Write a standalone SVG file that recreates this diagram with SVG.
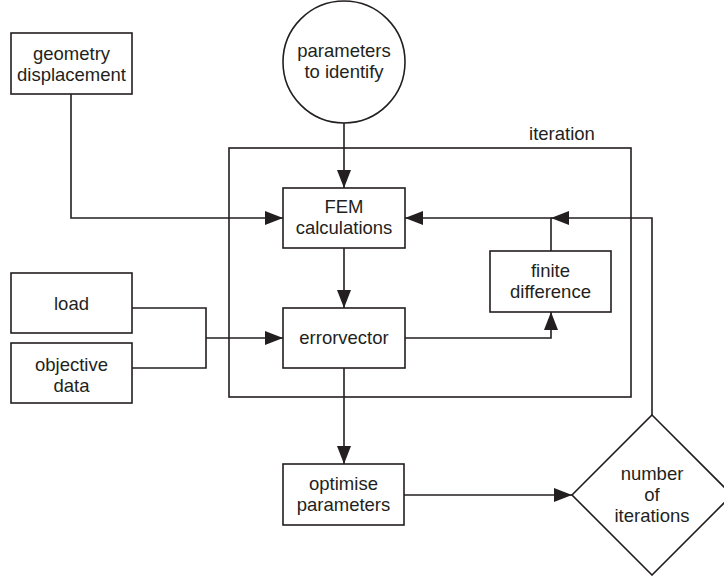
<svg xmlns="http://www.w3.org/2000/svg" width="724" height="576" viewBox="0 0 724 576">
<style>
.box{fill:#fff;stroke:#231f20;stroke-width:1.6}
.frame{fill:none;stroke:#231f20;stroke-width:1.6}
.ln{fill:none;stroke:#231f20;stroke-width:1.6}
text{font-family:"Liberation Sans",Arial,sans-serif;font-size:18.5px;fill:#231f20;text-anchor:middle}
</style>
<defs>
<marker id="ah" markerUnits="userSpaceOnUse" markerWidth="19" markerHeight="15" refX="18" refY="7" orient="auto">
<path d="M0,0 L18,7 L0,14 z" fill="#231f20"/>
</marker>
</defs>
<rect class="frame" x="229" y="148" width="402" height="249"/>
<text x="562" y="140">iteration</text>
<g id="connectors">
<path class="ln" d="M344,123 V188" marker-end="url(#ah)"/>
<path class="ln" d="M71,94 V218 H283" marker-end="url(#ah)"/>
<path class="ln" d="M344,248 V308" marker-end="url(#ah)"/>
<path class="ln" d="M132,308 H206 V368 H132"/>
<path class="ln" d="M206,338 H283" marker-end="url(#ah)"/>
<path class="ln" d="M405,338 H551 V312" marker-end="url(#ah)"/>
<path class="ln" d="M551,251 V218 H405" marker-end="url(#ah)"/>
<path class="ln" d="M652,415 V218 H551" marker-end="url(#ah)"/>
<path class="ln" d="M344,368 V464" marker-end="url(#ah)"/>
<path class="ln" d="M404,495 H572" marker-end="url(#ah)"/>
</g>
<g id="geometry">
<rect class="box" x="11" y="33" width="121" height="61"/>
<text x="71.5" y="60">geometry</text>
<text x="71.5" y="81">displacement</text>
</g>
<g id="parameters">
<circle class="box" cx="344" cy="62" r="61"/>
<text x="344" y="57">parameters</text>
<text x="344" y="78">to identify</text>
</g>
<g id="fem">
<rect class="box" x="283" y="188" width="122" height="60"/>
<text x="344" y="213">FEM</text>
<text x="344" y="234">calculations</text>
</g>
<g id="finite">
<rect class="box" x="490" y="251" width="121" height="61"/>
<text x="550.5" y="277">finite</text>
<text x="550.5" y="298">difference</text>
</g>
<g id="load">
<rect class="box" x="11" y="273" width="121" height="60"/>
<text x="71.5" y="310">load</text>
</g>
<g id="objective">
<rect class="box" x="11" y="343" width="121" height="60"/>
<text x="71.5" y="371">objective</text>
<text x="71.5" y="392">data</text>
</g>
<g id="errorvector">
<rect class="box" x="283" y="308" width="122" height="60"/>
<text x="344" y="344">errorvector</text>
</g>
<g id="optimise">
<rect class="box" x="283" y="464" width="121" height="61"/>
<text x="343.5" y="490">optimise</text>
<text x="343.5" y="511">parameters</text>
</g>
<g id="iterations">
<path class="box" d="M652,415 L732,495 L652,575 L572,495 z"/>
<text x="652" y="480">number</text>
<text x="652" y="501">of</text>
<text x="652" y="522">iterations</text>
</g>
</svg>
